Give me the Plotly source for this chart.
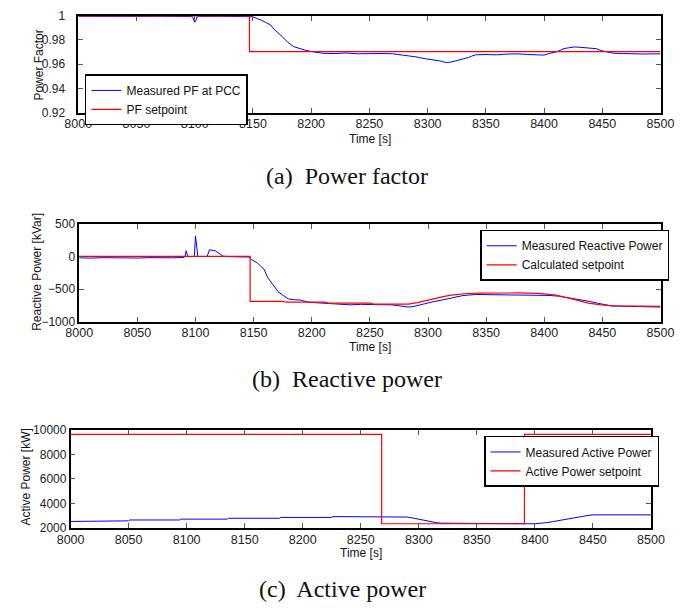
import plotly.graph_objects as go

# ---------------- data ----------------
# (a) Power factor
pf_meas_t = [8000, 8010, 8030, 8050, 8070, 8090, 8098, 8100, 8101, 8102, 8104, 8120, 8140, 8147,
             8150, 8154, 8157, 8161, 8165, 8168, 8172, 8175, 8178, 8180, 8185, 8190, 8195, 8200,
             8205, 8210, 8220, 8230, 8240, 8250, 8260, 8270, 8276, 8283, 8290, 8298, 8305, 8310,
             8314, 8316, 8320, 8323, 8327, 8330, 8335, 8338, 8341, 8350, 8359, 8368, 8377, 8386,
             8395, 8400, 8405, 8410, 8414, 8417, 8421, 8426, 8430, 8435, 8440, 8445, 8449, 8455,
             8460, 8468, 8475, 8485, 8492, 8500]
pf_meas_v = [0.9996, 0.9995, 0.9996, 0.9995, 0.9996, 0.9995, 0.9993, 0.9946, 0.9960, 0.9990, 0.9995, 0.9996, 0.9995, 0.9996,
             0.9992, 0.9975, 0.9965, 0.9945, 0.9925, 0.9890, 0.9860, 0.9830, 0.9800, 0.9780, 0.9745, 0.9729, 0.9715, 0.9705,
             0.9695, 0.9690, 0.9688, 0.9692, 0.9686, 0.9690, 0.9688, 0.9686, 0.9680, 0.9668, 0.9660, 0.9645, 0.9637, 0.9628,
             0.9618, 0.9613, 0.9617, 0.9624, 0.9634, 0.9645, 0.9655, 0.9667, 0.9677, 0.9680, 0.9677, 0.9683, 0.9685, 0.9680,
             0.9677, 0.9675, 0.9690, 0.9700, 0.9715, 0.9729, 0.9735, 0.9742, 0.9740, 0.9736, 0.9734, 0.9728, 0.9712, 0.9700,
             0.9690, 0.9688, 0.9685, 0.9684, 0.9685, 0.9685]
pf_set_t = [8000, 8147, 8147, 8500]
pf_set_v = [1.0, 1.0, 0.9703, 0.9703]

# (b) Reactive power
q_meas_t = [8000, 8010, 8020, 8030, 8040, 8050, 8060, 8070, 8080, 8090, 8091, 8092, 8093, 8094, 8099,
            8100, 8101, 8102, 8110, 8112, 8117, 8121, 8124, 8135, 8146, 8148, 8153, 8156, 8159, 8162,
            8165, 8168, 8171, 8175, 8180, 8185, 8190, 8197, 8205, 8211, 8222, 8233, 8242, 8251, 8260,
            8269, 8276, 8283, 8287, 8291, 8298, 8305, 8313, 8320, 8325, 8330, 8341, 8350, 8360, 8377,
            8386, 8395, 8404, 8413, 8422, 8431, 8439, 8446, 8452, 8457, 8465, 8475, 8486, 8494, 8500]
q_meas_v = [-20, -25, -18, -22, -20, -24, -18, -21, -20, -15, 0, 88, 20, 0, 0,
            316, 120, 0, 0, 103, 88, 38, 3, -5, -7, -46, -96, -150, -195, -320,
            -400, -478, -540, -593, -652, -665, -667, -702, -710, -717, -730, -742, -735, -732, -740,
            -742, -755, -776, -770, -750, -725, -692, -665, -643, -620, -600, -583, -585, -580, -583,
            -585, -593, -598, -610, -635, -667, -690, -717, -740, -757, -762, -765, -767, -772, -776]
q_set_t = [8000, 8147, 8147, 8175, 8178, 8211, 8214, 8250, 8253, 8283, 8291, 8298, 8305, 8313,
           8320, 8327, 8334, 8345, 8359, 8377, 8395, 8402, 8410, 8417, 8424, 8431, 8438, 8449,
           8460, 8480, 8500]
q_set_v = [3, 3, -690, -690, -702, -702, -717, -717, -730, -730, -707, -675, -643, -615,
           -593, -578, -568, -562, -558, -560, -565, -575, -593, -622, -657, -690, -717, -742,
           -757, -762, -765]

# (c) Active power
p_meas_t = [8000, 8006, 8007, 8050, 8051, 8094, 8095, 8135, 8136, 8180, 8181, 8225, 8226, 8285,
            8290, 8295, 8300, 8305, 8310, 8315, 8320, 8330, 8360, 8400, 8405, 8410, 8415, 8420,
            8425, 8430, 8435, 8440, 8445, 8450, 8475, 8500]
p_meas_v = [2520, 2520, 2570, 2570, 2640, 2640, 2710, 2710, 2780, 2780, 2850, 2850, 2920, 2920,
            2880, 2800, 2700, 2600, 2500, 2420, 2380, 2360, 2350, 2330, 2360, 2420, 2500, 2590,
            2680, 2760, 2850, 2930, 3000, 3060, 3060, 3060]
p_set_t = [8000, 8268, 8268, 8391, 8391, 8500]
p_set_v = [9650, 9650, 2330, 2330, 9650, 9650]

pf_ticks = [0.92, 0.94, 0.96, 0.98, 1.0]
pf_ticktext = ["0.92", "0.94", "0.96", "0.98", "1"]
q_ticks = [-1000, -500, 0, 500]
q_ticktext = ["\u22121000", "\u2212500", "0", "500"]
p_ticks = [2000, 4000, 6000, 8000, 10000]
p_ticktext = ["2000", "4000", "6000", "8000", "10000"]
x_ticks = [8000, 8050, 8100, 8150, 8200, 8250, 8300, 8350, 8400, 8450, 8500]

BLUE = "#0000FF"
RED = "#FF0000"
W, H = 687, 612


def fx(px):
    return px / W


def fy(py):
    return 1 - py / H


fig = go.Figure()
fig.add_trace(go.Scatter(x=pf_meas_t, y=pf_meas_v, mode="lines", name="Measured PF at PCC",
                         line=dict(color=BLUE, width=1), xaxis="x", yaxis="y", legend="legend"))
fig.add_trace(go.Scatter(x=pf_set_t, y=pf_set_v, mode="lines", name="PF setpoint",
                         line=dict(color=RED, width=1.2), xaxis="x", yaxis="y", legend="legend"))
fig.add_trace(go.Scatter(x=q_meas_t, y=q_meas_v, mode="lines", name="Measured Reactive Power",
                         line=dict(color=BLUE, width=1), xaxis="x2", yaxis="y2", legend="legend2"))
fig.add_trace(go.Scatter(x=q_set_t, y=q_set_v, mode="lines", name="Calculated setpoint",
                         line=dict(color=RED, width=1.2), xaxis="x2", yaxis="y2", legend="legend2"))
fig.add_trace(go.Scatter(x=p_meas_t, y=p_meas_v, mode="lines", name="Measured Active Power",
                         line=dict(color=BLUE, width=1), xaxis="x3", yaxis="y3", legend="legend3"))
fig.add_trace(go.Scatter(x=p_set_t, y=p_set_v, mode="lines", name="Active Power setpoint",
                         line=dict(color=RED, width=1.2), xaxis="x3", yaxis="y3", legend="legend3"))

xtickfont = dict(family="Liberation Sans, Arial, sans-serif", size=12.5, color="#222222")
ytickfont = dict(family="Liberation Sans, Arial, sans-serif", size=12, color="#222222")
axcommon = dict(showline=True, linecolor="black", linewidth=1.5, mirror="ticks",
                ticks="inside", ticklen=5, tickcolor="#555555", tickwidth=1,
                showgrid=False, zeroline=False)

panels = [
    # x0, x1, ytop, ybottom
    (67, 674, 9, 108),
    (68, 674, 222, 322),
    (59, 664, 433, 533),
]

layout = dict(
    width=W, height=H, margin=dict(l=0, r=0, t=0, b=0),
    paper_bgcolor="white", plot_bgcolor="white", showlegend=True,
)

yinfo = [
    dict(range=[0.92, 1.0], tickvals=pf_ticks, ticktext=pf_ticktext, ticklabelstandoff=9),
    dict(range=[-1000, 500], tickvals=q_ticks, ticktext=q_ticktext, ticklabelstandoff=0),
    dict(range=[2000, 10000], tickvals=p_ticks, ticktext=p_ticktext, ticklabelstandoff=0),
]
for i, (x0, x1, yt, yb) in enumerate(panels):
    sfx = "" if i == 0 else str(i + 1)
    layout["xaxis" + sfx] = dict(domain=[fx(x0), fx(x1)], range=[8000, 8500], tickvals=x_ticks,
                                 anchor="y" + sfx, ticklabelstandoff=-1, tickfont=xtickfont,
                                 **axcommon)
    layout["yaxis" + sfx] = dict(domain=[fy(yb), fy(yt)], anchor="x" + sfx, tickfont=ytickfont,
                                 **yinfo[i], **axcommon)

legfont = dict(family="Liberation Sans, Arial, sans-serif", size=12, color="#111111")
legcommon = dict(bgcolor="white", bordercolor="black", borderwidth=1.5, font=legfont,
                 xanchor="left", yanchor="top", tracegroupgap=0, itemwidth=30)
layout["legend"] = dict(x=fx(74), y=fy(69), **legcommon)
layout["legend2"] = dict(x=fx(486), y=fy(228), **legcommon)
layout["legend3"] = dict(x=fx(490), y=fy(439), **legcommon)

fig.update_layout(**layout)

labfont = dict(family="Liberation Sans, Arial, sans-serif", size=12, color="#111111")
capfont = dict(family="Liberation Serif, Times New Roman, serif", size=24, color="#111111")
annots = [
    # x-axis titles
    dict(text="Time [s]", x=fx(371), y=fy(135), font=labfont),
    dict(text="Time [s]", x=fx(371), y=fy(348), font=labfont),
    dict(text="Time [s]", x=fx(362), y=fy(559), font=labfont),
    # y-axis titles
    dict(text="Power Factor", x=fx(26), y=fy(59), font=labfont, textangle=-90),
    dict(text="Reactive Power [kVar]", x=fx(24), y=fy(271), font=labfont, textangle=-90),
    dict(text="Active Power [kW]", x=fx(12), y=fy(481), font=labfont, textangle=-90),
    # captions
    dict(text="(a)  Power factor", x=fx(347), y=fy(173), font=capfont),
    dict(text="(b)  Reactive power", x=fx(347), y=fy(381), font=capfont),
    dict(text="(c)  Active power", x=fx(342), y=fy(596), font=capfont),
]
for a in annots:
    fig.add_annotation(xref="paper", yref="paper", showarrow=False,
                       xanchor="center", yanchor="middle", **a)

fig.write_html("out.html")
